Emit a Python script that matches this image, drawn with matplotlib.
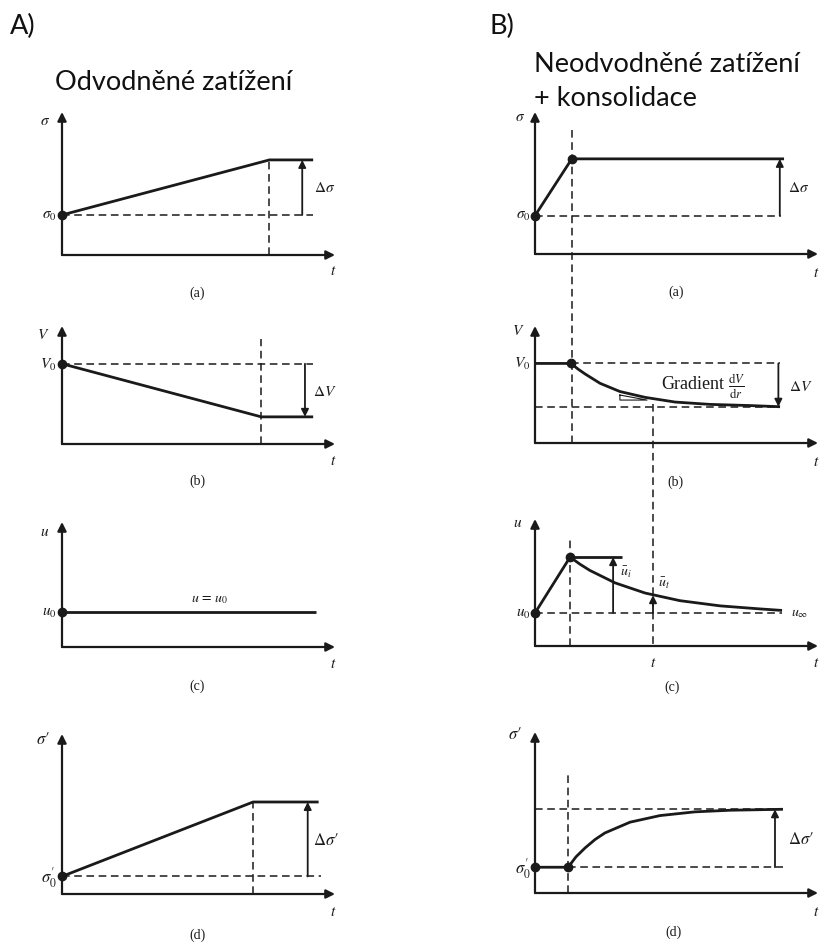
import matplotlib.pyplot as plt

# figure size in pixels (dpi 100)
W, H = 824, 945

# ---- A) drained loading (t and values as fractions of each panel's axes) ----
A_sig_t = [0, 0.76, 0.92]
A_sig = [0.28, 0.665, 0.665]
A_V_t = [0, 0.73, 0.92]
A_V = [0.68, 0.23, 0.23]
A_u_t = [0, 0.93]
A_u = [0.28, 0.28]
A_eff_t = [0, 0.70, 0.94]
A_eff = [0.11, 0.575, 0.575]

# ---- B) undrained loading + consolidation ----
B_sig_t = [0, 0.13, 0.88]
B_sig = [0.27, 0.67, 0.67]
B_V_t = [0, 0.127, 0.152, 0.177, 0.23, 0.30, 0.389, 0.495, 0.618, 0.76, 0.866]
B_V = [0.68, 0.68, 0.632, 0.59, 0.51, 0.44, 0.39, 0.35, 0.33, 0.32, 0.31]
B_u_t = [0, 0.124, 0.159, 0.194, 0.283, 0.389, 0.512, 0.654, 0.795, 0.873]
B_u = [0.26, 0.70, 0.644, 0.595, 0.497, 0.417, 0.357, 0.316, 0.292, 0.28]
B_eff_t = [0, 0.117, 0.145, 0.177, 0.212, 0.247, 0.336, 0.442, 0.565, 0.689, 0.876]
B_eff = [0.16, 0.16, 0.225, 0.28, 0.332, 0.373, 0.44, 0.481, 0.504, 0.514, 0.52]

INK = '#1a1a1a'
DASH = (0, (5, 3))

plt.rcParams['mathtext.fontset'] = 'stix'
plt.rcParams['font.family'] = ['Liberation Serif', 'DejaVu Serif']

fig = plt.figure(figsize=(W / 100, H / 100), dpi=100)


def panel(x0, y0, x1, y1):
    # x0,y0 = origin in pixels, x1 = tip of t axis, y1 = tip of value axis
    ax = fig.add_axes([x0 / W, 1 - y0 / H, (x1 - x0) / W, (y0 - y1) / H])
    ax.set_xlim(0, 1)
    ax.set_ylim(0, 1)
    ax.axis('off')
    ap = dict(arrowstyle='-|>', lw=1.6, color=INK, mutation_scale=13,
              shrinkA=0, shrinkB=0)
    ax.annotate('', xy=(1, 0), xytext=(0, 0), arrowprops=ap)
    ax.annotate('', xy=(0, 1), xytext=(0, 0), arrowprops=ap)
    return ax


def dashed(ax, xs, ys):
    ax.plot(xs, ys, color=INK, lw=1.1, ls=DASH, clip_on=False)


def solid(ax, xs, ys):
    ax.plot(xs, ys, color=INK, lw=2.0, solid_joinstyle='round',
            solid_capstyle='butt', clip_on=False)


def dot(ax, x, y):
    ax.plot([x], [y], 'o', color=INK, ms=6, clip_on=False)


def arrow(ax, x, y_from, y_to):
    ax.annotate('', xy=(x, y_to), xytext=(x, y_from),
                arrowprops=dict(arrowstyle='-|>', lw=1.3, color=INK,
                                mutation_scale=11, shrinkA=0, shrinkB=0))


def lab(ax, x, y, s, size=11, ha='center', va='center', **kw):
    ax.text(x, y, s, fontsize=size, ha=ha, va=va, color=INK, **kw)


# ================= column A =================
ax = panel(62, 256, 335, 113)
solid(ax, A_sig_t, A_sig)
dot(ax, A_sig_t[0], A_sig[0])
dashed(ax, [0, A_sig_t[2]], [A_sig[0], A_sig[0]])
dashed(ax, [A_sig_t[1], A_sig_t[1]], [0, A_sig[1]])
arrow(ax, 0.88, A_sig[0], A_sig[1])
lab(ax, -0.062, 0.94, r'$\sigma$')
lab(ax, -0.02, A_sig[0], r'$\sigma_0$', ha='right')
lab(ax, 0.963, 0.475, r'$\Delta\sigma$')
lab(ax, 0.995, -0.11, r'$t$')
lab(ax, 0.495, -0.26, '(a)', size=10)

ax = panel(62, 445, 335, 327)
solid(ax, A_V_t, A_V)
dot(ax, A_V_t[0], A_V[0])
dashed(ax, [0, A_V_t[2]], [A_V[0], A_V[0]])
dashed(ax, [A_V_t[1], A_V_t[1]], [0, 0.89])
arrow(ax, 0.89, A_V[0], A_V[1])
lab(ax, -0.07, 0.93, r'$V$')
lab(ax, -0.02, A_V[0], r'$V_0$', ha='right')
lab(ax, 0.963, 0.45, r'$\Delta V$')
lab(ax, 0.995, -0.144, r'$t$')
lab(ax, 0.495, -0.31, '(b)', size=10)

ax = panel(62, 648, 335, 523)
solid(ax, A_u_t, A_u)
dot(ax, A_u_t[0], A_u[0])
lab(ax, -0.062, 0.92, r'$u$')
lab(ax, -0.02, A_u[0], r'$u_0$', ha='right')
lab(ax, 0.54, 0.39, r'$u\,=\,u_0$', size=10)
lab(ax, 0.995, -0.136, r'$t$')
lab(ax, 0.495, -0.31, '(c)', size=10)

ax = panel(62, 895, 335, 735)
solid(ax, A_eff_t, A_eff)
dot(ax, A_eff_t[0], A_eff[0])
dashed(ax, [0, 0.95], [A_eff[0], A_eff[0]])
dashed(ax, [A_eff_t[1], A_eff_t[1]], [0, A_eff[1]])
arrow(ax, 0.90, A_eff[0], A_eff[1])
lab(ax, -0.07, 0.97, r'$\sigma′$', size=12)
lab(ax, -0.02, A_eff[0], r"$\sigma_0'$", size=12, ha='right')
lab(ax, 0.965, 0.34, r'$\Delta\sigma′$', size=12)
lab(ax, 0.995, -0.11, r'$t$')
lab(ax, 0.495, -0.25, '(d)', size=10)

# ================= column B =================
ax = panel(535, 255, 818, 113)
solid(ax, B_sig_t, B_sig)
dot(ax, B_sig_t[0], B_sig[0])
dot(ax, B_sig_t[1], B_sig[1])
dashed(ax, [0, 0.87], [B_sig[0], B_sig[0]])
dashed(ax, [B_sig_t[1], B_sig_t[1]], [0.87, -1.33])  # down to the V axis
arrow(ax, 0.865, B_sig[0], B_sig[1])
lab(ax, -0.053, 0.97, r'$\sigma$')
lab(ax, -0.015, B_sig[0], r'$\sigma_0$', ha='right')
lab(ax, 0.933, 0.47, r'$\Delta\sigma$')
lab(ax, 0.995, -0.13, r'$t$')
lab(ax, 0.50, -0.26, '(a)', size=10)

ax = panel(535, 444, 818, 327)
solid(ax, B_V_t, B_V)
dot(ax, B_V_t[1], B_V[1])
dashed(ax, [B_V_t[1], B_V_t[-1]], [B_V[0], B_V[0]])
dashed(ax, [0, B_V_t[-1]], [B_V[-1], B_V[-1]])
dashed(ax, [0.417, 0.417], [0.33, -1.735])  # down to the u axis
ax.plot([0.30, 0.30, 0.396, 0.30], [0.41, 0.367, 0.367, 0.41],
        color=INK, lw=0.8)
arrow(ax, 0.86, B_V[0], B_V[-1])
lab(ax, -0.06, 0.97, r'$V$')
lab(ax, -0.015, B_V[0], r'$V_0$', ha='right')
lab(ax, 0.595, 0.49, r'Gradient $\frac{\mathrm{d}V}{\mathrm{d}r}$', size=13)
lab(ax, 0.94, 0.49, r'$\Delta V$')
lab(ax, 0.995, -0.154, r'$t$')
lab(ax, 0.495, -0.325, '(b)', size=10)

ax = panel(535, 647, 818, 520)
solid(ax, B_u_t, B_u)
dot(ax, B_u_t[0], B_u[0])
dot(ax, B_u_t[1], B_u[1])
solid(ax, [B_u_t[1], 0.307], [B_u[1], B_u[1]])
dashed(ax, [0, B_u_t[-1]], [B_u[0], B_u[0]])
dashed(ax, [B_u_t[1], B_u_t[1]], [0, 0.86])
arrow(ax, 0.276, B_u[0], B_u[1])
arrow(ax, 0.417, B_u[0], 0.40)
lab(ax, -0.06, 0.97, r'$u$')
lab(ax, -0.015, B_u[0], r'$u_0$', ha='right')
lab(ax, 0.905, B_u[0], r'$u_\infty$', size=10, ha='left')
lab(ax, 0.30, 0.59, r'$\bar{u}_i$', size=10, ha='left')
lab(ax, 0.435, 0.50, r'$\bar{u}_t$', size=10, ha='left')
lab(ax, 0.417, -0.126, r'$t$')
lab(ax, 0.995, -0.126, r'$t$')
lab(ax, 0.484, -0.315, '(c)', size=10)

ax = panel(535, 894, 818, 733)
solid(ax, B_eff_t, B_eff)
dot(ax, B_eff_t[0], B_eff[0])
dot(ax, B_eff_t[1], B_eff[1])
dashed(ax, [0, B_eff_t[-1]], [B_eff[-1], B_eff[-1]])
dashed(ax, [B_eff_t[1], B_eff_t[-1]], [B_eff[0], B_eff[0]])
dashed(ax, [B_eff_t[1], B_eff_t[1]], [0, 0.75])
arrow(ax, 0.848, B_eff[0], B_eff[-1])
lab(ax, -0.07, 0.99, r'$\sigma′$', size=12)
lab(ax, -0.015, B_eff[0], r"$\sigma_0'$", size=12, ha='right')
lab(ax, 0.94, 0.335, r'$\Delta\sigma′$', size=12)
lab(ax, 0.995, -0.118, r'$t$')
lab(ax, 0.488, -0.24, '(d)', size=10)

# ================= headings =================
sans = ['Lato', 'DejaVu Sans']


def head(x, y, s):
    fig.text(x / W, 1 - y / H, s, fontsize=19.5, family=sans, color='#111',
             ha='left', va='center')


head(10, 26, 'A)')
head(55, 82, 'Odvodněné zatížení')
head(489, 26, 'B)')
head(534, 64, 'Neodvodněné zatížení')
head(534, 98, '+ konsolidace')

fig.savefig('out.png', dpi=100)
